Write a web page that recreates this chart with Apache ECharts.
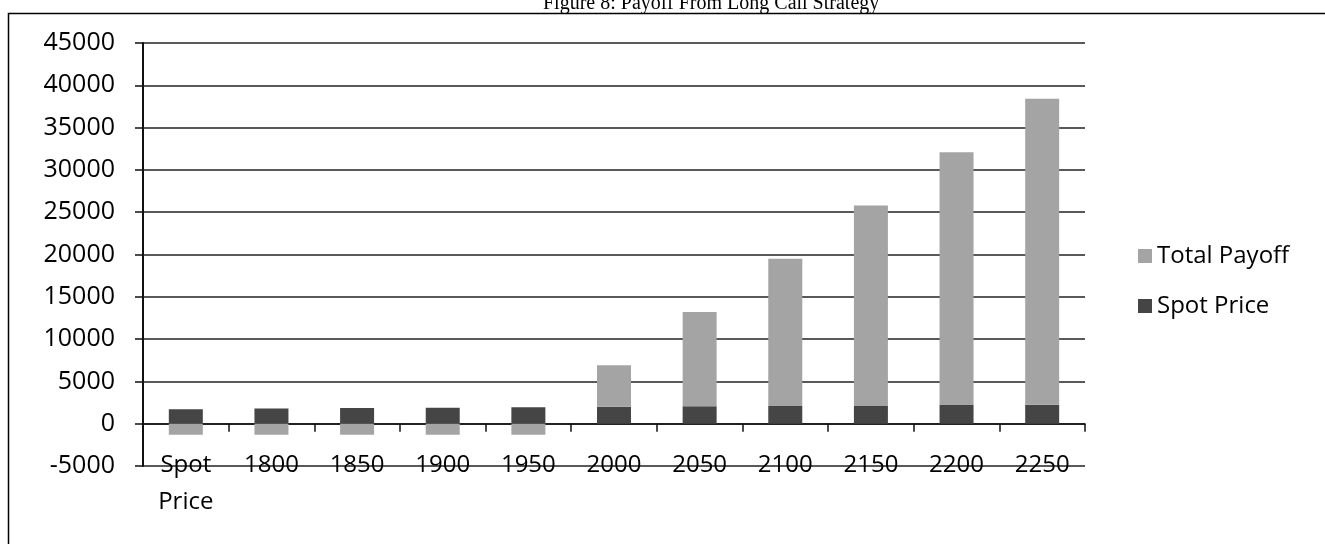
<!DOCTYPE html>
<html>
<head>
<meta charset="utf-8">
<script src="https://cdn.jsdelivr.net/npm/echarts@6/dist/echarts.min.js"></script>
<style>
html,body{margin:0;padding:0;background:#fff;}
#chart{width:1325px;height:544px;}
</style>
</head>
<body>
<div id="chart"></div>
<script>
const titleText = 'Figure 8: Payoff From Long Call Strategy';
const categories = ['Spot\nPrice', '1800', '1850', '1900', '1950', '2000', '2050', '2100', '2150', '2200', '2250'];
const spotPrice = [1700, 1800, 1850, 1900, 1950, 2000, 2050, 2100, 2150, 2200, 2250];
const totalPayoff = [-1300, -1300, -1300, -1300, -1300, 4900, 11150, 17400, 23650, 29900, 36150];
const yTicks = {min: -5000, max: 45000, interval: 5000};

const FONT = 'Open Sans';
const chart = echarts.init(document.getElementById('chart'), null, {renderer: 'canvas'});
chart.setOption({
  backgroundColor: '#fff',
  animation: false,
  title: {
    text: titleText,
    left: 538,
    top: -11,
    textStyle: {fontFamily: 'Liberation Serif', fontSize: 20, fontWeight: 'normal', color: '#000'}
  },
  graphic: [{
    type: 'rect',
    shape: {x: 8.5, y: 13.5, width: 1400, height: 600},
    style: {fill: 'none', stroke: '#000', lineWidth: 1.5},
    silent: true
  }],
  legend: {
    orient: 'vertical',
    left: 1133,
    top: 239,
    itemWidth: 14,
    itemHeight: 14,
    itemGap: 26,
    icon: 'rect',
    data: ['Total Payoff', 'Spot Price'],
    textStyle: {fontFamily: FONT, fontSize: 24, color: '#000'}
  },
  grid: {left: 143, right: 240, top: 43, bottom: 78, containLabel: false},
  xAxis: [{
    type: 'category',
    data: categories,
    position: 'bottom',
    axisLine: {show: false, onZero: false},
    axisTick: {show: false},
    axisLabel: {fontFamily: FONT, fontSize: 24, color: '#000', margin: -19, lineHeight: 37, interval: 0}
  }, {
    type: 'category',
    data: categories,
    position: 'bottom',
    axisLine: {show: true, onZero: true, lineStyle: {color: '#111', width: 1.5}},
    axisTick: {show: true, length: 8, lineStyle: {color: '#111', width: 1.5}},
    axisLabel: {show: false}
  }],
  yAxis: {
    type: 'value',
    min: yTicks.min,
    max: yTicks.max,
    interval: yTicks.interval,
    axisLine: {show: true, lineStyle: {color: '#111', width: 2}},
    axisTick: {show: true, length: 8, lineStyle: {color: '#111', width: 1.5}},
    splitLine: {show: true, lineStyle: {color: '#222', width: 1.5}},
    axisLabel: {fontFamily: FONT, fontSize: 25, color: '#000', margin: 28, formatter: v => String(v)}
  },
  series: [{
    name: 'Spot Price',
    type: 'bar',
    stack: 'total',
    xAxisIndex: 1,
    data: spotPrice,
    barWidth: 34,
    itemStyle: {color: '#454545'}
  }, {
    name: 'Total Payoff',
    type: 'bar',
    stack: 'total',
    xAxisIndex: 1,
    data: totalPayoff,
    barWidth: 34,
    itemStyle: {color: '#a4a4a4'}
  }]
});
</script>
</body>
</html>
